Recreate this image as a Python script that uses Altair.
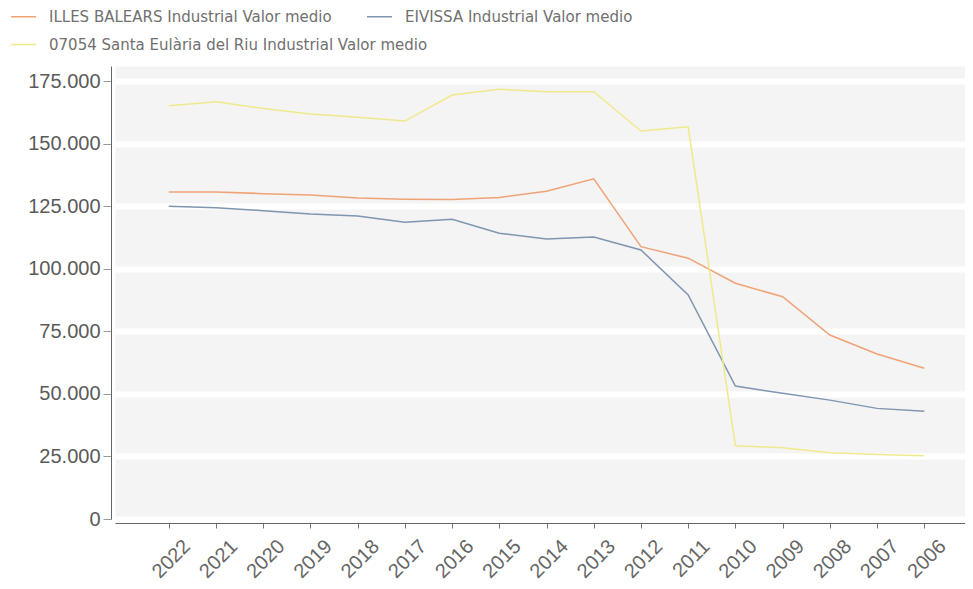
import altair as alt
import pandas as pd

years = ["2022", "2021", "2020", "2019", "2018", "2017", "2016", "2015", "2014",
         "2013", "2012", "2011", "2010", "2009", "2008", "2007", "2006"]

series_names = [
    "ILLES BALEARS Industrial Valor medio",
    "EIVISSA Industrial Valor medio",
    "07054 Santa Eulària del Riu Industrial Valor medio",
]
series_colors = ["#f0a277", "#7f95b0", "#eeea8c"]

baleares = [130700, 130700, 130000, 129500, 128300, 127800, 127700, 128500, 131000,
            135900, 108800, 104200, 94200, 88800, 73500, 65900, 60200]
eivissa = [125000, 124400, 123200, 121900, 121100, 118600, 119800, 114200, 111900,
           112700, 107500, 89500, 53100, 50200, 47500, 44200, 43100]
santa_eularia = [165100, 166700, 164000, 161800, 160500, 159000, 169400, 171700, 170700,
                 170700, 155000, 156700, 29300, 28500, 26500, 25800, 25300]

y_ticks = [0, 25000, 50000, 75000, 100000, 125000, 150000, 175000]

rows = []
for name, vals in zip(series_names, [baleares, eivissa, santa_eularia]):
    for yr, v in zip(years, vals):
        rows.append({"year": yr, "value": v, "series": name})
df = pd.DataFrame(rows)

FONT = "Liberation Sans"
LEG_FONT = "DejaVu Sans"

x_enc = alt.X(
    "year:N",
    sort=years,
    scale=alt.Scale(type="point", padding=1.177, align=0.569),
    axis=alt.Axis(
        title=None, labelAngle=315, labelAlign="right", labelBaseline="middle",
        labelOffset=18, labelPadding=15, labelFontSize=20, labelFont=FONT,
        labelColor="#666666", tickSize=5, tickColor="#777777",
        domainColor="#666666", offset=4, grid=False,
    ),
)
y_enc = alt.Y(
    "value:Q",
    scale=alt.Scale(domain=[0, 181000], nice=False, zero=True),
    axis=alt.Axis(
        title=None, values=y_ticks,
        labelExpr="replace(format(datum.value, ',d'), ',', '.')",
        labelFontSize=20, labelFont=FONT, labelColor="#5a5a5a",
        tickSize=8, tickColor="#999999", labelPadding=3,
        domainColor="#666666", offset=4,
        grid=True, gridColor="#ffffff", gridWidth=6,
    ),
)


def legend_at(y):
    return alt.Legend(
        title=None, orient="none", legendX=-105, legendY=y,
        direction="horizontal",
        symbolType="stroke", symbolSize=625, symbolStrokeWidth=1.5,
        labelFontSize=15, labelFont=LEG_FONT, labelColor="#707070",
        labelOffset=12, columnPadding=32, padding=0, labelLimit=0,
    )


base = alt.Chart(df)

top_pair = base.transform_filter(
    alt.FieldOneOfPredicate(field="series", oneOf=series_names[:2])
).mark_line(strokeWidth=1.5).encode(
    x=x_enc,
    y=y_enc,
    color=alt.Color(
        "series:N",
        sort=series_names[:2],
        scale=alt.Scale(domain=series_names[:2], range=series_colors[:2]),
        legend=legend_at(-63),
    ),
)

third = base.transform_filter(
    alt.FieldEqualPredicate(field="series", equal=series_names[2])
).mark_line(strokeWidth=1.5).encode(
    x=x_enc,
    y=y_enc,
    color=alt.Color(
        "series:N",
        scale=alt.Scale(domain=series_names[2:], range=series_colors[2:]),
        legend=legend_at(-35),
    ),
)

chart = alt.layer(top_pair, third).resolve_scale(
    color="independent"
).properties(
    width=850,
    height=453,
    autosize=alt.AutoSizeParams(type="none"),
    padding={"left": 107, "top": 58, "right": 0, "bottom": 62},
).configure_view(
    fill="#f4f4f4", strokeOpacity=0,
)

chart.save("out.html", embed_options={"renderer": "svg", "actions": False})
